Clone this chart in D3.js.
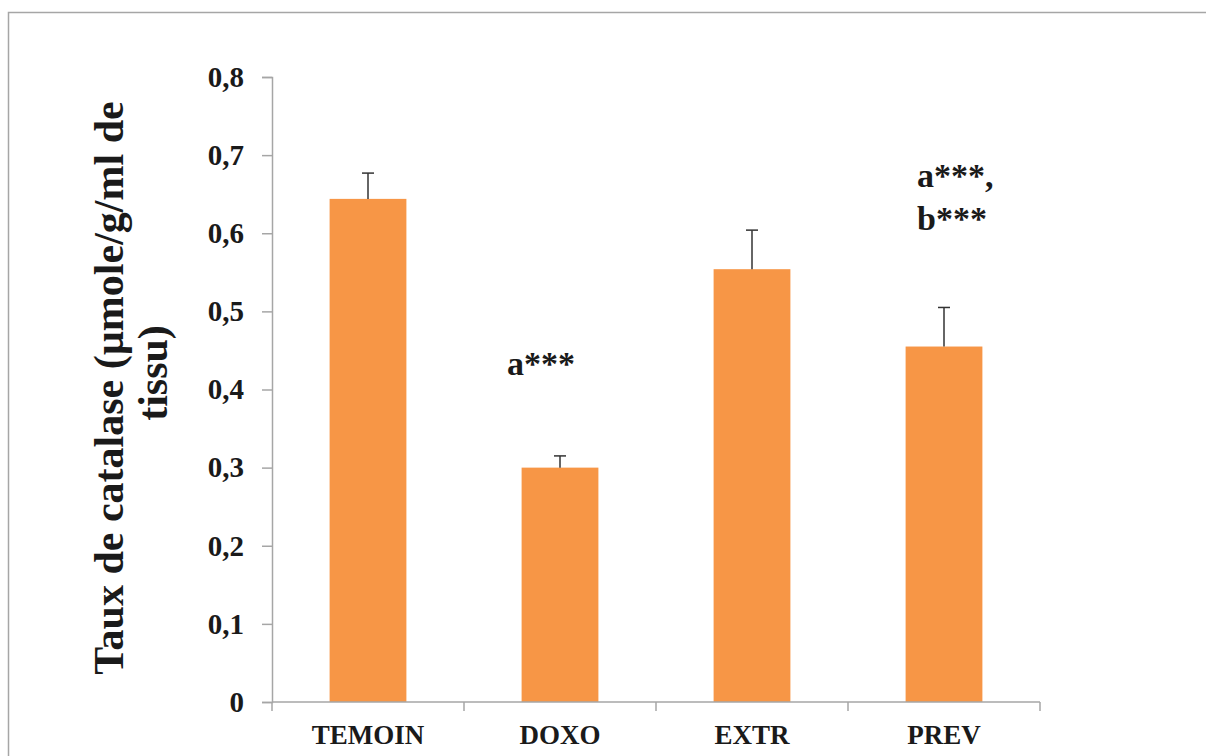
<!DOCTYPE html>
<html>
<head>
<meta charset="utf-8">
<script src="https://cdn.jsdelivr.net/npm/d3@7"></script>
<style>
  html, body { margin: 0; padding: 0; background: #fff; }
  svg { display: block; }
  text { font-family: "Liberation Serif", "Times New Roman", serif; font-weight: bold; fill: #1a1a1a; }
</style>
</head>
<body>
<svg id="chart" width="1206" height="756"></svg>
<script>
// Catalase level per group (mean and upper error)
const categories = ["TEMOIN", "DOXO", "EXTR", "PREV"];
const means = [0.644, 0.300, 0.554, 0.455];
const errors = [0.033, 0.015, 0.050, 0.050];
const yTicks = [0, 0.1, 0.2, 0.3, 0.4, 0.5, 0.6, 0.7, 0.8];
const titleLines = ["Taux de catalase (µmole/g/ml de", "tissu)"];
// Significance notes: group, lines of text, value at first baseline
const noteGroups = ["DOXO", "PREV"];
const noteLines = [["a***"], ["a***,", "b***"]];
const noteValues = [0.419, 0.659];

const svg = d3.select("#chart");
const plotLeft = 272, plotRight = 1040, plotTop = 77, plotBottom = 702;

// Outer frame
svg.append("rect")
  .attr("x", 8.5).attr("y", 12.5)
  .attr("width", 1300).attr("height", 900)
  .attr("fill", "none").attr("stroke", "#a6a6a6").attr("stroke-width", 1.5);

const x = d3.scaleBand().domain(categories).range([plotLeft, plotRight]).paddingInner(0).paddingOuter(0);
const y = d3.scaleLinear().domain([0, 0.8]).range([plotBottom, plotTop]);
const fmt = d => d3.format(".1f")(d).replace(".", ",");

// Y axis
const yAxis = svg.append("g")
  .attr("transform", `translate(${plotLeft},0)`)
  .call(d3.axisLeft(y).tickValues(yTicks).tickSize(10).tickPadding(18)
    .tickFormat(d => d === 0 ? "0" : fmt(d)));
yAxis.select(".domain").attr("stroke", "#a6a6a6").attr("stroke-width", 1.5);
yAxis.selectAll(".tick line").attr("stroke", "#a6a6a6").attr("stroke-width", 1.5);
yAxis.selectAll(".tick text")
  .attr("font-family", "Liberation Serif, serif").attr("font-size", 29)
  .attr("font-weight", "bold").attr("fill", "#1a1a1a");

// Bars
const barW = x.bandwidth() * 0.4;
svg.append("g").selectAll("rect")
  .data(categories)
  .join("rect")
  .attr("x", d => x(d) + (x.bandwidth() - barW) / 2)
  .attr("y", (d, i) => y(means[i]))
  .attr("width", barW)
  .attr("height", (d, i) => y(0) - y(means[i]))
  .attr("fill", "#f79646");

// Error bars (upper only)
const eb = svg.append("g").attr("stroke", "#333").attr("stroke-width", 1.5);
categories.forEach((c, i) => {
  const cx = x(c) + x.bandwidth() / 2;
  eb.append("line").attr("x1", cx).attr("x2", cx)
    .attr("y1", y(means[i])).attr("y2", y(means[i] + errors[i]));
  eb.append("line").attr("x1", cx - 6).attr("x2", cx + 6)
    .attr("y1", y(means[i] + errors[i])).attr("y2", y(means[i] + errors[i]));
});

// X axis
const xAxis = svg.append("g")
  .attr("transform", `translate(0,${plotBottom})`);
xAxis.append("line").attr("x1", plotLeft).attr("x2", plotRight)
  .attr("stroke", "#a6a6a6").attr("stroke-width", 1.5);
const bounds = categories.map(c => x(c)).concat([plotRight]);
xAxis.selectAll("line.tk").data(bounds).join("line")
  .attr("class", "tk")
  .attr("x1", d => d).attr("x2", d => d).attr("y1", 0).attr("y2", 9)
  .attr("stroke", "#a6a6a6").attr("stroke-width", 1.5);
xAxis.selectAll("text").data(categories).join("text")
  .attr("x", d => x(d) + x.bandwidth() / 2)
  .attr("y", 42)
  .attr("text-anchor", "middle")
  .attr("font-size", 27)
  .text(d => d);

// Y title
const title = svg.append("g").attr("transform", "translate(0,388) rotate(-90)");
titleLines.forEach((t, i) => {
  title.append("text")
    .attr("x", i === 0 ? 0 : 15)
    .attr("y", 123 + i * 44)
    .attr("text-anchor", "middle")
    .attr("font-size", 42)
    .text(t);
});

// Significance notes
const noteDx = { DOXO: 43, PREV: 69 };
noteGroups.forEach((g, i) => {
  noteLines[i].forEach((t, j) => {
    svg.append("text")
      .attr("x", x(g) + noteDx[g])
      .attr("y", y(noteValues[i]) + j * 43)
      .attr("font-size", 34)
      .text(t);
  });
});
</script>
</body>
</html>
